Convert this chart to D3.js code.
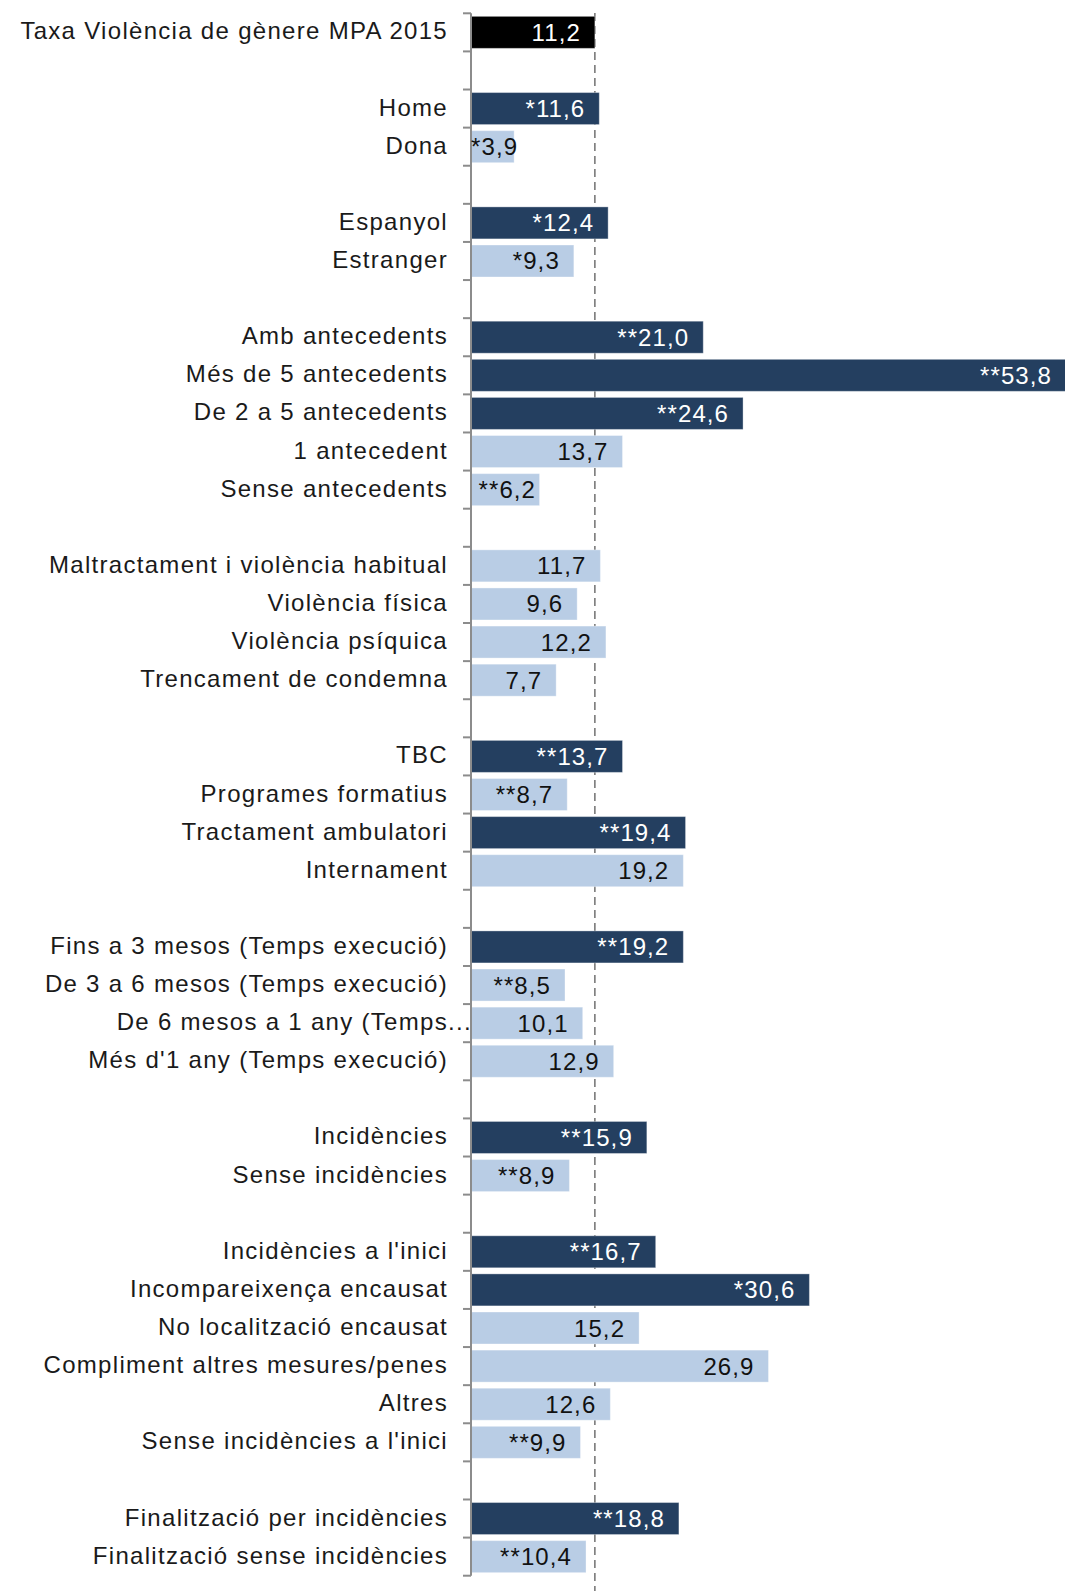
<!DOCTYPE html>
<html>
<head>
<meta charset="utf-8">
<script src="https://cdn.jsdelivr.net/npm/d3@7"></script>
<style>
  html, body { margin: 0; padding: 0; background: #ffffff; }
  svg { display: block; }
  .lbl { font-family: "Liberation Sans", Arial, sans-serif; font-size: 24px; letter-spacing: 1.3px; fill: #1a1a1a; }
  .val { font-family: "Liberation Sans", Arial, sans-serif; font-size: 24px; letter-spacing: 1.1px; }
</style>
</head>
<body>
<svg id="chart" width="1065" height="1591"></svg>
<script>
// ---- Data (blank rows are group separators) ----
const categories = [
  "Taxa Violència de gènere MPA 2015",
  "",
  "Home", "Dona",
  "",
  "Espanyol", "Estranger",
  "",
  "Amb antecedents", "Més de 5 antecedents", "De 2 a 5 antecedents", "1 antecedent", "Sense antecedents",
  "",
  "Maltractament i violència habitual", "Violència física", "Violència psíquica", "Trencament de condemna",
  "",
  "TBC", "Programes formatius", "Tractament ambulatori", "Internament",
  "",
  "Fins a 3 mesos (Temps execució)", "De 3 a 6 mesos (Temps execució)", "De 6 mesos a 1 any (Temps...", "Més d'1 any (Temps execució)",
  "",
  "Incidències", "Sense incidències",
  "",
  "Incidències a l'inici", "Incompareixença encausat", "No localització encausat", "Compliment altres mesures/penes", "Altres", "Sense incidències a l'inici",
  "",
  "Finalització per incidències", "Finalització sense incidències"
];
const values = [
  11.2,
  null,
  11.6, 3.9,
  null,
  12.4, 9.3,
  null,
  21.0, 53.8, 24.6, 13.7, 6.2,
  null,
  11.7, 9.6, 12.2, 7.7,
  null,
  13.7, 8.7, 19.4, 19.2,
  null,
  19.2, 8.5, 10.1, 12.9,
  null,
  15.9, 8.9,
  null,
  16.7, 30.6, 15.2, 26.9, 12.6, 9.9,
  null,
  18.8, 10.4
];
// significance markers shown before the value
const significance = [
  "",
  "",
  "*", "*",
  "",
  "*", "*",
  "",
  "**", "**", "**", "", "**",
  "",
  "", "", "", "",
  "",
  "**", "**", "**", "",
  "",
  "**", "**", "", "",
  "",
  "**", "**",
  "",
  "**", "*", "", "", "", "**",
  "",
  "**", "**"
];
// series: total / significant / other
const series = [
  "total",
  "",
  "sig", "light",
  "",
  "sig", "light",
  "",
  "sig", "sig", "sig", "light", "light",
  "",
  "light", "light", "light", "light",
  "",
  "sig", "light", "sig", "light",
  "",
  "sig", "light", "light", "light",
  "",
  "sig", "light",
  "",
  "sig", "sig", "light", "light", "light", "light",
  "",
  "sig", "light"
];
const referenceValue = 11.2;
const xDomain = [0, 53.8];

// ---- Styles ----
const fillColor = { total: "#000000", sig: "#243F60", light: "#B9CDE5" };
const textColor = { total: "#ffffff", sig: "#ffffff", light: "#111111" };

const W = 1065, H = 1591;
const axisX = 471;
const svg = d3.select("#chart");

const x = d3.scaleLinear().domain(xDomain).range([axisX, 1066]);
const idx = d3.range(categories.length);
const y = d3.scaleBand().domain(idx).range([13.3, 1575.7]).paddingInner(0.16).paddingOuter(0.08);

const fmt = d3.formatLocale({ decimal: ",", thousands: ".", grouping: [3], currency: ["", "€"] }).format(".1f");

// reference dashed line (behind bars)
svg.append("line")
  .attr("x1", x(referenceValue)).attr("x2", x(referenceValue))
  .attr("y1", 13).attr("y2", H)
  .attr("stroke", "#7a7a7a").attr("stroke-width", 1.6)
  .attr("stroke-dasharray", "8,5");

// bars
const rows = idx.filter(i => values[i] != null);
svg.append("g").selectAll("rect").data(rows).join("rect")
  .attr("x", x(0))
  .attr("y", i => y(i))
  .attr("width", i => x(values[i]) - x(0))
  .attr("height", y.bandwidth())
  .attr("fill", i => fillColor[series[i]])
  .attr("stroke", "#ffffff").attr("stroke-opacity", 0.35).attr("stroke-width", 1);

// category axis (ticks at category boundaries, Excel style)
const step = y.step();
const y0 = y.range()[0];
const gAxis = svg.append("g");
gAxis.append("line")
  .attr("x1", axisX).attr("x2", axisX)
  .attr("y1", y0).attr("y2", y.range()[1])
  .attr("stroke", "#8c8c8c").attr("stroke-width", 2);
gAxis.selectAll("line.tick").data(d3.range(categories.length + 1)).join("line")
  .attr("class", "tick")
  .attr("x1", axisX - 8).attr("x2", axisX)
  .attr("y1", k => y0 + k * step).attr("y2", k => y0 + k * step)
  .attr("stroke", "#8c8c8c").attr("stroke-width", 2);

// category labels
const labelX = axisX - 23;
const gl = svg.append("g");
rows.forEach(i => {
  let txt = categories[i];
  let suffix = "";
  if (txt.endsWith("...")) { suffix = "..."; txt = txt.slice(0, -3); }
  const cy = y(i) + y.bandwidth() / 2;
  gl.append("text").attr("class", "lbl")
    .attr("x", labelX).attr("y", cy + 7)
    .attr("text-anchor", "end").text(txt);
  if (suffix) {
    gl.append("text").attr("class", "lbl")
      .attr("x", labelX).attr("y", cy + 7)
      .attr("text-anchor", "start").attr("letter-spacing", "-0.5px").text(suffix);
  }
});

// value labels (inside end; centered when they don't fit)
const pad = 16;
const gv = svg.append("g");
rows.forEach(i => {
  const cy = y(i) + y.bandwidth() / 2;
  const t = gv.append("text").attr("class", "val")
    .attr("y", cy + 8.5)
    .attr("fill", textColor[series[i]])
    .text(significance[i] + fmt(values[i]));
  const w = t.node().getComputedTextLength();
  const barW = x(values[i]) - x(0);
  if (w + 2 * pad <= barW) {
    t.attr("x", x(values[i]) - pad + 2).attr("text-anchor", "end");
  } else {
    t.attr("x", (x(0) + x(values[i])) / 2 + 2).attr("text-anchor", "middle");
  }
});
</script>
</body>
</html>
